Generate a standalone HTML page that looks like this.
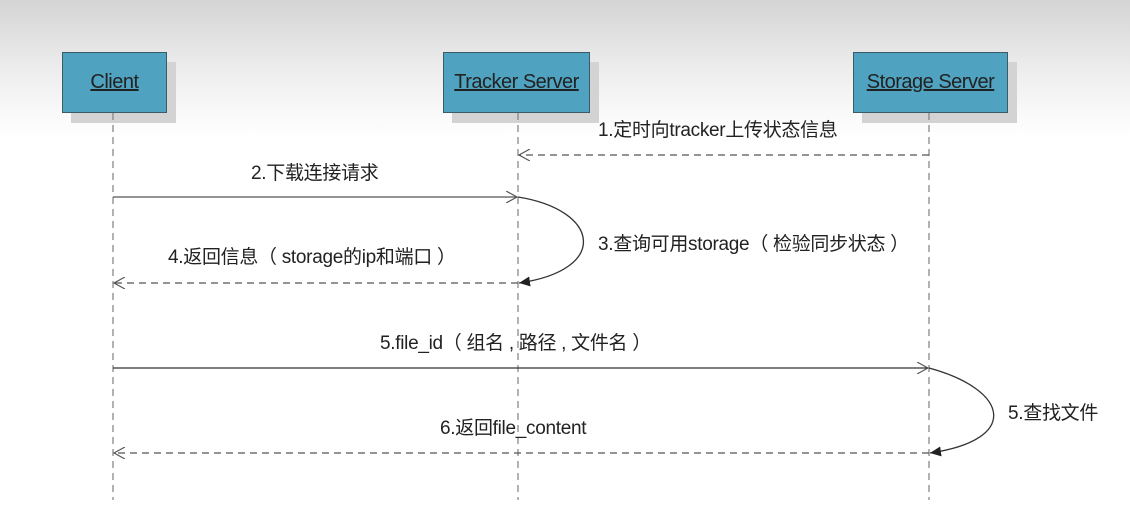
<!DOCTYPE html>
<html><head><meta charset="utf-8"><style>
html,body{margin:0;padding:0;}
body{width:1130px;height:516px;overflow:hidden;background:linear-gradient(#d4d4d4 0px,#ededed 70px,#fbfbfb 120px,#fff 140px);position:relative;font-family:"Liberation Sans","Noto Sans CJK SC",sans-serif;}
.box{position:absolute;top:52px;height:59px;background:#4fa3c0;border:1px solid #3d5b66;box-shadow:9px 10px 0 #d3d3d3;display:flex;align-items:center;justify-content:center;font-size:20px;color:#222;text-decoration:underline;letter-spacing:-0.5px}
.lbl{position:absolute;font-size:19px;color:#222;white-space:nowrap;letter-spacing:-0.3px}
</style></head><body>
<div class="box" style="left:62px;width:103px">Client</div>
<div class="box" style="left:443px;width:145px">Tracker Server</div>
<div class="box" style="left:853px;width:153px">Storage Server</div>
<svg width="1130" height="516" style="position:absolute;left:0;top:0">
<defs>
<marker id="op" markerWidth="12" markerHeight="12" refX="11" refY="6" orient="auto" markerUnits="userSpaceOnUse"><path d="M0,0 L11,6 L0,12" fill="none" stroke="#555" stroke-width="1.2"/></marker>
<marker id="fl" markerWidth="12" markerHeight="12" refX="11" refY="6" orient="auto" markerUnits="userSpaceOnUse"><path d="M0,1 L11,6 L0,11 z" fill="#222"/></marker>
</defs>
<g stroke="#888" stroke-width="1.3" stroke-dasharray="7,5">
<line x1="113" y1="113" x2="113" y2="500"/>
<line x1="518" y1="113" x2="518" y2="500"/>
<line x1="929" y1="113" x2="929" y2="500"/>
</g>
<g fill="none" stroke="#555" stroke-width="1.3">
<line x1="929" y1="155" x2="519" y2="155" stroke-dasharray="7,5" marker-end="url(#op)"/>
<line x1="113" y1="197" x2="517" y2="197" marker-end="url(#op)"/>
<path d="M518,197 C600,210 610,270 519,283" stroke="#333" marker-end="url(#fl)"/>
<line x1="518" y1="283" x2="114" y2="283" stroke-dasharray="7,5" marker-end="url(#op)"/>
<line x1="113" y1="368" x2="928" y2="368" stroke="#333" marker-end="url(#op)"/>
<path d="M929,368 C1010,390 1020,440 930,453" stroke="#333" marker-end="url(#fl)"/>
<line x1="929" y1="453" x2="114" y2="453" stroke-dasharray="7,5" marker-end="url(#op)"/>
</g>
</svg>
<div class="lbl" style="left:598px;top:115px">1.定时向tracker上传状态信息</div>
<div class="lbl" style="left:251px;top:158px">2.下载连接请求</div>
<div class="lbl" style="left:598px;top:229px">3.查询可用storage（ 检验同步状态 ）</div>
<div class="lbl" style="left:168px;top:242px">4.返回信息（ storage的ip和端口 ）</div>
<div class="lbl" style="left:380px;top:328px">5.file_id（ 组名 , 路径 , 文件名 ）</div>
<div class="lbl" style="left:1008px;top:398px">5.查找文件</div>
<div class="lbl" style="left:440px;top:413px">6.返回file_content</div>
</body></html>
